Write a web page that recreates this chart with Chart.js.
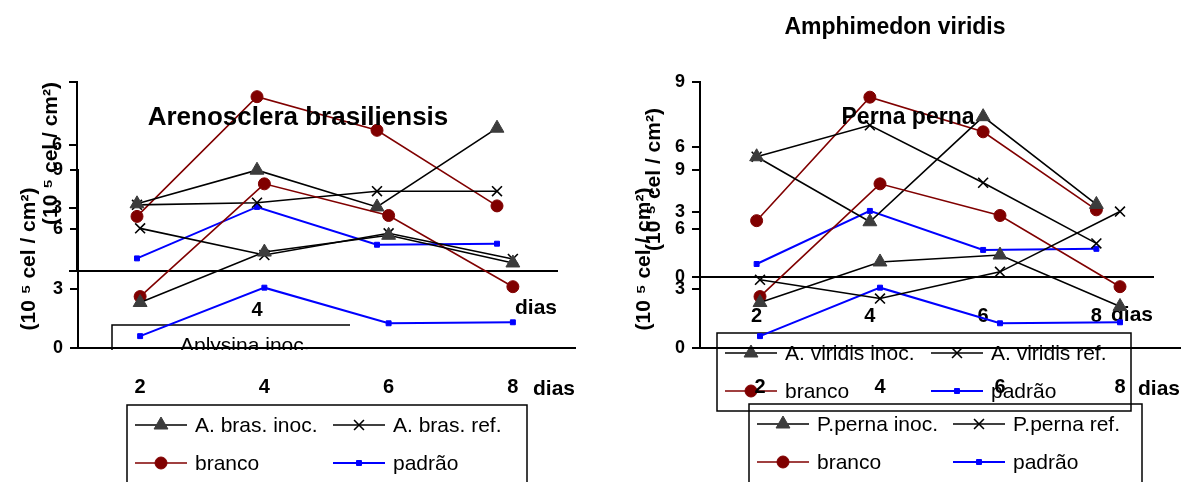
<!DOCTYPE html>
<html>
<head>
<meta charset="utf-8">
<script src="https://cdn.jsdelivr.net/npm/chart.js@4"></script>
<style>
  html, body { margin: 0; padding: 0; background: #fff; }
  #wrap { position: relative; width: 1189px; height: 482px; overflow: hidden; }
  #wrap canvas { position: absolute; left: 0; top: 0; }
</style>
</head>
<body>
<div id="wrap">
  <canvas id="aplysina" width="1189" height="482"></canvas>
  <canvas id="arenosclera" width="1189" height="482"></canvas>
  <canvas id="amphimedon" width="1189" height="482"></canvas>
  <canvas id="perna" width="1189" height="482"></canvas>
</div>
<script>
// days of incubation
const days = ['2', '4', '6', '8'];
// controls, same in every panel
const branco = [2.6, 8.3, 6.7, 3.1];
const padrao = [0.6, 3.05, 1.25, 1.3];
// sponge / mussel series
const aplysinaInoc = [3.2, 4.8, 3.05, 6.8];
const aplysinaRef = [3.15, 3.25, 3.8, 3.8];
const arenoInoc = [2.3, 4.85, 5.7, 4.3];
const arenoRef = [6.05, 4.7, 5.8, 4.5];
const viridisInoc = [5.55, 2.55, 7.4, 3.35];
const viridisRef = [5.55, 7.0, 4.35, 1.55];
const pernaInoc = [2.3, 4.35, 4.7, 2.1];
const pernaRef = [3.45, 2.5, 3.85, 6.9];

const FONT = '"Liberation Sans", Arial, sans-serif';
Chart.defaults.font.family = FONT;

const styles = {
  inoc: { borderColor: '#000', pointStyle: 'triangle', pointRadius: 8, pointBackgroundColor: '#3c3c3c', pointBorderColor: '#3c3c3c', pointBorderWidth: 1, borderWidth: 1.6 },
  ref: { borderColor: '#000', pointStyle: 'crossRot', pointRadius: 7, pointBackgroundColor: '#000', pointBorderColor: '#000', pointBorderWidth: 1.6, borderWidth: 1.6 },
  branco: { borderColor: '#800000', pointStyle: 'circle', pointRadius: 6, pointBackgroundColor: '#800000', pointBorderColor: '#800000', pointBorderWidth: 1, borderWidth: 1.6 },
  padrao: { borderColor: '#0000ff', pointStyle: 'rect', pointRadius: 3.5, pointBackgroundColor: '#0000ff', pointBorderColor: '#0000ff', pointBorderWidth: 1, borderWidth: 2 }
};

function series(label, data, kind) {
  return Object.assign({ label: label, data: data, fill: false, tension: 0 }, styles[kind]);
}

// titles and excel-like legend boxes
const extras = {
  id: 'extras',
  afterDraw(chart, args, opts) {
    const ctx = chart.ctx;
    (opts.texts || []).forEach(t => {
      ctx.save();
      ctx.font = t.font;
      ctx.fillStyle = '#000';
      ctx.textAlign = 'center';
      ctx.textBaseline = 'middle';
      ctx.fillText(t.text, t.x, t.y);
      ctx.restore();
    });
    const lg = opts.legend;
    if (!lg) return;
    ctx.save();
    if (lg.clip) {
      ctx.beginPath();
      ctx.rect(lg.clip[0], lg.clip[1], lg.clip[2], lg.clip[3]);
      ctx.clip();
    }
    ctx.strokeStyle = '#000';
    ctx.lineWidth = 1.5;
    ctx.strokeRect(lg.x, lg.y, lg.w, lg.h);
    chart.data.datasets.forEach((ds, i) => {
      const cx = lg.x + (i % 2) * lg.col2;
      const cy = lg.y + (i < 2 ? 20 : 58);
      if (lg.symbols !== false) {
        ctx.strokeStyle = ds.borderColor;
        ctx.lineWidth = ds.borderWidth;
        ctx.beginPath();
        ctx.moveTo(cx + 8, cy);
        ctx.lineTo(cx + 60, cy);
        ctx.stroke();
        ctx.fillStyle = ds.pointBackgroundColor;
        ctx.strokeStyle = ds.pointBorderColor;
        ctx.lineWidth = ds.pointBorderWidth;
        Chart.helpers.drawPoint(ctx, { pointStyle: ds.pointStyle, radius: ds.pointRadius, borderWidth: ds.pointBorderWidth, rotation: 0 }, cx + 34, cy);
      }
      ctx.fillStyle = '#000';
      ctx.font = '21px ' + FONT;
      ctx.textAlign = 'left';
      ctx.textBaseline = 'middle';
      ctx.fillText(ds.label, cx + 68, cy + 1);
    });
    ctx.restore();
  }
};

function makeChart(id, cfg) {
  const xTicks = { color: '#000', font: { size: 20, weight: 'bold' }, padding: 19, maxRotation: 0 };
  if (cfg.xCallback) xTicks.callback = cfg.xCallback;
  const yTicks = { stepSize: 3, color: '#000', font: { size: 18, weight: 'bold' }, padding: 7 };
  if (cfg.yCallback) yTicks.callback = cfg.yCallback;
  return new Chart(document.getElementById(id), {
    type: 'line',
    data: { labels: days, datasets: cfg.datasets },
    options: {
      responsive: false,
      animation: false,
      devicePixelRatio: 1,
      clip: false,
      layout: { padding: cfg.padding },
      plugins: {
        legend: { display: false },
        tooltip: { enabled: false },
        extras: cfg.extras
      },
      scales: {
        x: {
          offset: true,
          grid: { display: false },
          border: { display: true, color: '#000', width: 2 },
          ticks: xTicks,
          title: { display: true, text: 'dias', align: 'end', color: '#000', font: { size: 21, weight: 'bold' }, padding: 0 },
          afterFit: s => { s.height = cfg.xHeight; }
        },
        y: {
          min: 0,
          max: 9,
          ticks: yTicks,
          grid: { drawOnChartArea: false, drawTicks: true, tickLength: 8, color: '#000', lineWidth: 2 },
          border: { display: true, color: '#000', width: 2 },
          title: { display: true, text: '(10 ⁵ cel / cm²)', align: cfg.yAlign, color: '#000', font: { size: 21, weight: 'bold' }, padding: { top: cfg.yTitlePad, bottom: 0 } },
          afterFit: s => { s.width = cfg.yWidth; }
        }
      }
    },
    plugins: [extras]
  });
}

// left panel, back chart
makeChart('aplysina', {
  datasets: [
    series('Aplysina inoc.', aplysinaInoc, 'inoc'),
    series('Aplysina ref.', aplysinaRef, 'ref'),
    series('branco', branco, 'branco'),
    series('padrão', padrao, 'padrao')
  ],
  padding: { left: 0, top: 82, right: 632, bottom: 161 },
  yWidth: 77, xHeight: 50, yTitlePad: 39, yAlign: 'end',
  xCallback: function (v) { const l = this.getLabelForValue(v); return l === '4' ? l : ''; },
  yCallback: v => (v === 3 || v === 6) ? v : '',
  extras: { legend: { x: 112, y: 325, w: 400, h: 78, col2: 200, symbols: false, clip: [100, 318, 250, 32] } }
});

// left panel, front chart
makeChart('arenosclera', {
  datasets: [
    series('A. bras. inoc.', arenoInoc, 'inoc'),
    series('A. bras. ref.', arenoRef, 'ref'),
    series('branco', branco, 'branco'),
    series('padrão', padrao, 'padrao')
  ],
  padding: { left: 0, top: 170, right: 614, bottom: 80 },
  yWidth: 78, xHeight: 54, yTitlePad: 17, yAlign: 'center',
  extras: {
    texts: [{ text: 'Arenosclera brasiliensis', x: 298, y: 118, font: 'bold 26px ' + FONT }],
    legend: { x: 127, y: 405, w: 400, h: 90, col2: 198 }
  }
});

// right panel, back chart
makeChart('amphimedon', {
  datasets: [
    series('A. viridis inoc.', viridisInoc, 'inoc'),
    series('A. viridis ref.', viridisRef, 'ref'),
    series('branco', branco, 'branco'),
    series('padrão', padrao, 'padrao')
  ],
  padding: { left: 600, top: 82, right: 36, bottom: 154 },
  yWidth: 100, xHeight: 51, yTitlePad: 42, yAlign: 'center',
  extras: {
    texts: [{ text: 'Amphimedon viridis', x: 895, y: 28, font: 'bold 23px ' + FONT }],
    legend: { x: 717, y: 333, w: 414, h: 78, col2: 206 }
  }
});

// right panel, front chart
makeChart('perna', {
  datasets: [
    series('P.perna inoc.', pernaInoc, 'inoc'),
    series('P.perna ref.', pernaRef, 'ref'),
    series('branco', branco, 'branco'),
    series('padrão', padrao, 'padrao')
  ],
  padding: { left: 600, top: 170, right: 0, bottom: 80 },
  yWidth: 100, xHeight: 54, yTitlePad: 32, yAlign: 'center',
  extras: {
    texts: [{ text: 'Perna perna', x: 908, y: 118, font: 'bold 23px ' + FONT }],
    legend: { x: 749, y: 404, w: 393, h: 90, col2: 196 }
  }
});
</script>
</body>
</html>
